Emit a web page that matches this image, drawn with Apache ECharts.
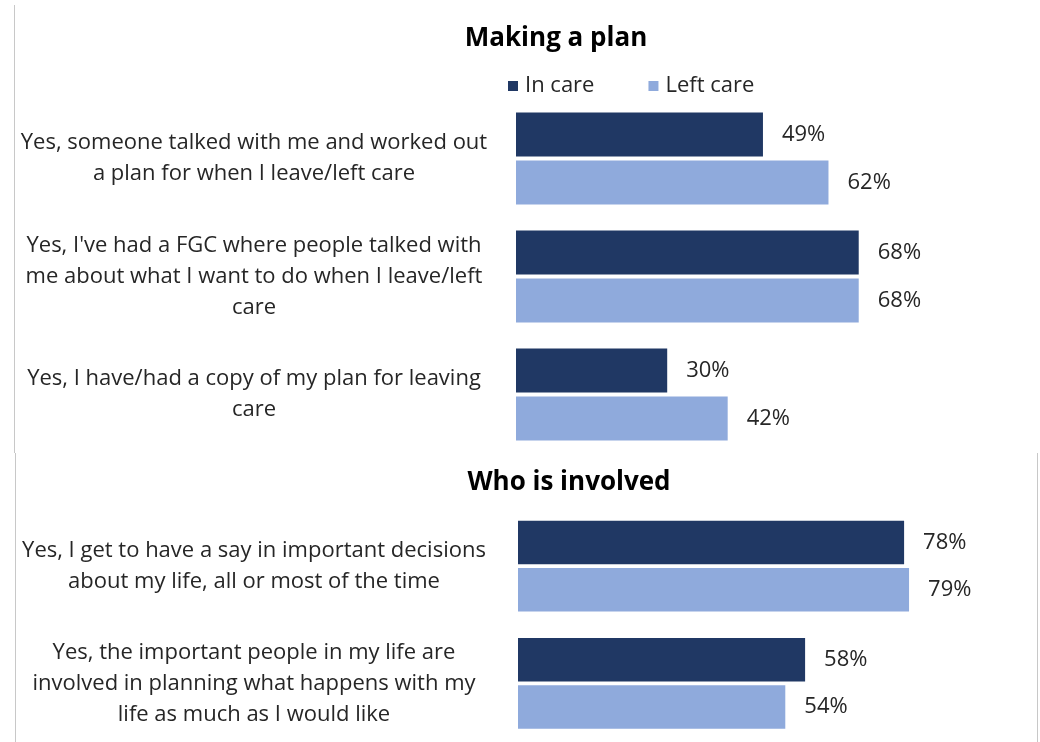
<!DOCTYPE html>
<html>
<head>
<meta charset="utf-8">
<script src="https://cdn.jsdelivr.net/npm/echarts@6/dist/echarts.min.js"></script>
<style>
  html, body { margin: 0; padding: 0; background: #ffffff; }
  #chart { width: 1040px; height: 742px; }
</style>
</head>
<body>
<div id="chart"></div>
<script>
// Survey results: percentage answering "Yes", split by care status
const seriesNames = ['In care', 'Left care'];

const planCategories = [
  'Yes, someone talked with me and worked out\na plan for when I leave/left care',
  "Yes, I've had a FGC where people talked with\nme about what I want to do when I leave/left\ncare",
  'Yes, I have/had a copy of my plan for leaving\ncare'
];
const planInCare = [49, 68, 30];
const planLeftCare = [62, 68, 42];

const involvedCategories = [
  'Yes, I get to have a say in important decisions\nabout my life, all or most of the time',
  'Yes, the important people in my life are\ninvolved in planning what happens with my\nlife as much as I would like'
];
const involvedInCare = [78, 58];
const involvedLeftCare = [79, 54];

const panelTitles = ['Making a plan', 'Who is involved'];

const DARK = '#203864';
const LIGHT = '#8FAADC';
const FONT = '"Open Sans", "Liberation Sans", sans-serif';
const TEXT = '#262626';

function catAxis(gridIndex, cats, margin) {
  return {
    type: 'category',
    gridIndex: gridIndex,
    data: cats,
    inverse: true,
    axisLine: { show: false },
    axisTick: { show: false },
    splitLine: { show: false },
    axisLabel: {
      align: 'center',
      margin: margin,
      fontFamily: FONT,
      fontSize: 22,
      lineHeight: 31,
      color: TEXT
    }
  };
}

function valAxis(gridIndex) {
  return {
    type: 'value',
    gridIndex: gridIndex,
    min: 0,
    max: 100,
    show: false
  };
}

function barSeries(name, data, gridIndex, color, width) {
  return {
    name: name,
    type: 'bar',
    xAxisIndex: gridIndex,
    yAxisIndex: gridIndex,
    data: data,
    barWidth: width,
    barGap: '9%',
    itemStyle: { color: color },
    label: {
      show: true,
      position: 'right',
      distance: 19,
      formatter: '{c}%',
      fontFamily: FONT,
      fontSize: 22,
      color: TEXT
    }
  };
}

const chart = echarts.init(document.getElementById('chart'), null, { renderer: 'canvas' });

chart.setOption({
  animation: false,
  backgroundColor: '#ffffff',
  color: [DARK, LIGHT],
  title: [
    {
      text: panelTitles[0],
      left: 551, top: 21, textAlign: 'center',
      textStyle: { fontFamily: FONT, fontWeight: 'bold', fontSize: 26, color: '#000000' }
    },
    {
      text: panelTitles[1],
      left: 564, top: 465, textAlign: 'center',
      textStyle: { fontFamily: FONT, fontWeight: 'bold', fontSize: 26, color: '#000000' }
    }
  ],
  legend: {
    data: seriesNames,
    left: 503,
    top: 70,
    icon: 'rect',
    itemWidth: 10,
    itemHeight: 10,
    itemGap: 54,
    textStyle: { fontFamily: FONT, fontSize: 22, color: TEXT, padding: [0, 0, 0, 2] }
  },
  grid: [
    { left: 516, top: 99.5, width: 504, height: 354 },
    { left: 518, top: 507.5, width: 495, height: 239 }
  ],
  xAxis: [valAxis(0), valAxis(1)],
  yAxis: [
    catAxis(0, planCategories, 262),
    catAxis(1, involvedCategories, 264)
  ],
  series: [
    barSeries(seriesNames[0], planInCare, 0, DARK, 44),
    barSeries(seriesNames[1], planLeftCare, 0, LIGHT, 44),
    barSeries(seriesNames[0], involvedInCare, 1, DARK, 43.5),
    barSeries(seriesNames[1], involvedLeftCare, 1, LIGHT, 43.5)
  ],
  graphic: [
    // panel frame edges
    { type: 'line', shape: { x1: 14.5, y1: 5, x2: 14.5, y2: 453 }, style: { stroke: '#c8c8c8', lineWidth: 1 } },
    { type: 'line', shape: { x1: 15.5, y1: 453, x2: 15.5, y2: 742 }, style: { stroke: '#c8c8c8', lineWidth: 1 } },
    { type: 'line', shape: { x1: 1037.5, y1: 453, x2: 1037.5, y2: 742 }, style: { stroke: '#c8c8c8', lineWidth: 1 } }
  ]
});
</script>
</body>
</html>
